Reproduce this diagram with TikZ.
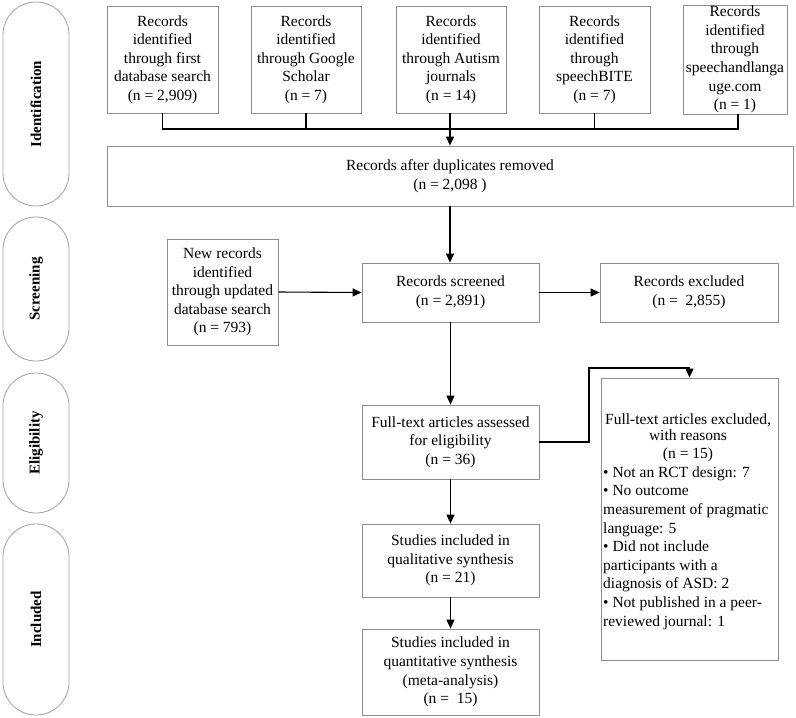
\documentclass[tikz,border=0pt]{standalone}
\usepackage{fontspec}
\setmainfont{Liberation Serif}
\usetikzlibrary{arrows.meta}
\definecolor{boxgray}{HTML}{8C8C8C}
\definecolor{pillgray}{HTML}{A0A0A0}
\begin{document}
\begin{tikzpicture}[x=1pt,y=-1pt,
  box/.style={draw=boxgray, line width=0.8pt, align=center, inner sep=1pt,
    font=\fontsize{15.5}{18.6}\selectfont},
  txt/.style={inner sep=0pt, font=\fontsize{15.5}{18.6}\selectfont},
  pill/.style={draw=pillgray, line width=0.8pt, rounded corners=32.9pt,
    minimum height=66pt, rotate=90, inner sep=0pt,
    font=\fontsize{15}{18}\selectfont\bfseries},
  conn/.style={line width=1.1pt, black},
  arr/.style={conn, -{Triangle[length=9pt,width=8pt]}}]
\useasboundingbox (0,0) rectangle (796,718);

% side phases
\node[pill, minimum width=204pt] (pid) at (36,104) {Identification};
\node[pill, minimum width=144pt] (psc) at (36,289) {Screening};
\node[pill, minimum width=140pt] (pel) at (36,443) {Eligibility};
\node[pill, minimum width=191pt] (pin) at (36,619.5) {Included};

% identification sources
\node[box, minimum width=111pt, minimum height=107pt] (b1) at (162.5,59.5)
  {Records\\identified\\through first\\database search\\(n = 2,909)};
\node[box, minimum width=110pt, minimum height=107pt] (b2) at (306,59.5)
  {Records\\identified\\through Google\\Scholar\\(n = 7)};
\node[box, minimum width=110pt, minimum height=107pt] (b3) at (451,59.5)
  {Records\\identified\\through Autism\\journals\\(n = 14)};
\node[box, minimum width=111pt, minimum height=107pt] (b4) at (594.5,59.5)
  {Records\\identified\\through\\speechBITE\\(n = 7)};
\node[box, minimum width=104pt, minimum height=107pt] (b5) at (735,59.5)
  {Records\\identified\\through\\speechandlanga\\uge.com\\(n = 1)};

\node[box, minimum width=686pt, minimum height=60pt] (dup) at (450,176)
  {Records after duplicates removed\\(n = 2,098 )};

% screening
\node[box, minimum width=111pt, minimum height=106pt] (new) at (222.5,292)
  {New records\\identified\\through updated\\database search\\(n = 793)};
\node[box, minimum width=177pt, minimum height=59pt] (scr) at (450.5,292.5)
  {Records screened\\(n = 2,891)};
\node[box, minimum width=178pt, minimum height=59pt] (rex) at (689,292.5)
  {Records excluded\\(n = ~2,855)};

% eligibility
\node[box, minimum width=177pt, minimum height=74pt] (ft) at (450.5,442)
  {Full-text articles assessed\\for eligibility\\(n = 36)};
\node[box, minimum width=177pt, minimum height=282pt] (exc) at (689.5,519) {};
\node[txt, align=center] (exct) at (688,438)
  {Full-text articles excluded,\\[-3pt]with reasons\\(n = 15)};
\node[txt, align=left, anchor=west] (excb) at (603,548)
  {\textbullet{} Not an RCT design: 7\\
   \textbullet{} No outcome\\
   measurement of pragmatic\\
   language: 5\\
   \textbullet{} Did not include\\
   participants with a\\
   diagnosis of ASD: 2\\
   \textbullet{} Not published in a peer-\\
   reviewed journal: 1};

% included
\node[box, minimum width=177pt, minimum height=73pt] (qual) at (450.5,560.5)
  {Studies included in\\qualitative synthesis\\(n = 21)};
\node[box, minimum width=177pt, minimum height=86pt] (quan) at (450.5,672)
  {Studies included in\\quantitative synthesis\\(meta-analysis)\\(n = ~15)};

% connectors
\coordinate (jn) at (450,129);
\coordinate (bend) at (589,368);
\draw[conn] (b1.south) |- (jn);
\draw[conn] (b2.south) |- (jn);
\draw[conn] (b4.south) |- (jn);
\draw[conn] ([xshift=3pt]b5.south) |- (jn);
\draw[arr] (b3.south -| jn) -- (dup.north -| jn);
\draw[arr] (dup.south) -- (scr.north -| dup.south);
\draw[arr] (new.east) -- (scr.west);
\draw[arr] (scr.east) -- (rex.west);
\draw[arr] (scr.south) -- (ft.north);
\draw[arr] (ft.east) -| (bend) -| (exc.north);
\draw[arr] (ft.south) -- (qual.north);
\draw[arr] (qual.south) -- (quan.north);
\end{tikzpicture}
\end{document}
